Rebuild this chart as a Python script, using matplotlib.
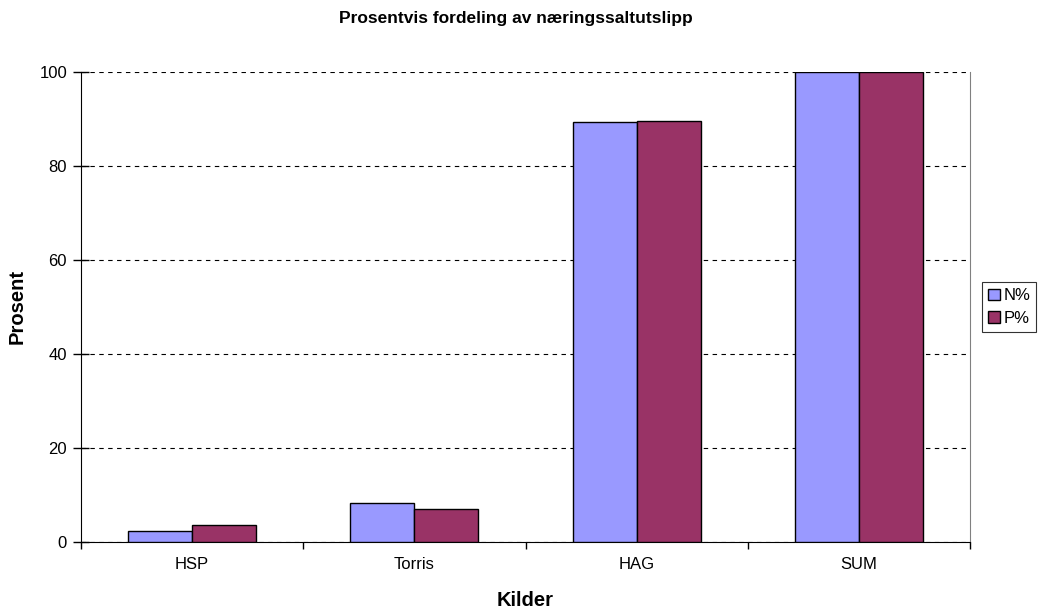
import matplotlib
matplotlib.use("Agg")
import matplotlib.pyplot as plt
import numpy as np

categories = ["HSP", "Torris", "HAG", "SUM"]
n_pct = [2.4, 8.2, 89.4, 100.0]
p_pct = [3.55, 6.95, 89.6, 100.0]
series_names = ["N%", "P%"]
yticks = [0, 20, 40, 60, 80, 100]

plt.rcParams['font.family'] = ['Liberation Sans', 'DejaVu Sans']

fig = plt.figure(figsize=(10.38, 6.12), dpi=100)
ax = fig.add_axes([81/1038, 70/612, (970-81)/1038, (542-72)/612])

x = np.arange(len(categories))
w = 0.288
ax.bar(x - w/2, n_pct, w, color="#9999FF", edgecolor="black", linewidth=1, label=series_names[0], zorder=3)
ax.bar(x + w/2, p_pct, w, color="#993366", edgecolor="black", linewidth=1, label=series_names[1], zorder=3)

ax.set_xlim(-0.5, len(categories) - 0.5)
ax.set_ylim(0, 100)
ax.set_yticks(yticks)
ax.set_xticks(x)
ax.set_xticks(np.arange(-0.5, len(categories), 1), minor=True)
ax.set_xticklabels(categories, fontsize=12)
ax.tick_params(axis='x', which='major', length=0, pad=11)
ax.tick_params(axis='x', which='minor', length=5, width=1, direction='out')
ax.tick_params(axis='y', length=12, width=1, direction='inout', labelsize=12, pad=4)

ax.yaxis.grid(True, linestyle=(0, (4, 4)), color="black", linewidth=0.8, zorder=0)
ax.spines['top'].set_visible(False)
ax.spines['right'].set_color("#808080")
ax.spines['left'].set_color("black")
ax.spines['bottom'].set_color("black")

fig.text(516/1038, 1 - 18/612, "Prosentvis fordeling av næringssaltutslipp",
         fontsize=12.5, fontweight='bold', ha='center', va='center')
ax.set_xlabel("Kilder", fontsize=14.5, fontweight='bold', va='center')
ax.xaxis.set_label_coords((525.5 - 81) / 889, -(600 - 542) / 470)
ax.set_ylabel("Prosent", fontsize=14.5, fontweight='bold', va='center')
ax.yaxis.set_label_coords(-(81 - 17.5) / 889, 0.5 - (306 - 307) / 470)

leg = ax.legend(loc='center left', bbox_to_anchor=(1.014, 0.5), fontsize=12, frameon=True,
                fancybox=False, edgecolor="black", handlelength=0.7, handleheight=0.7,
                handletextpad=0.2, borderpad=0.35, labelspacing=0.45, borderaxespad=0)
leg.get_frame().set_linewidth(0.8)

fig.savefig("out.png", dpi=100)
